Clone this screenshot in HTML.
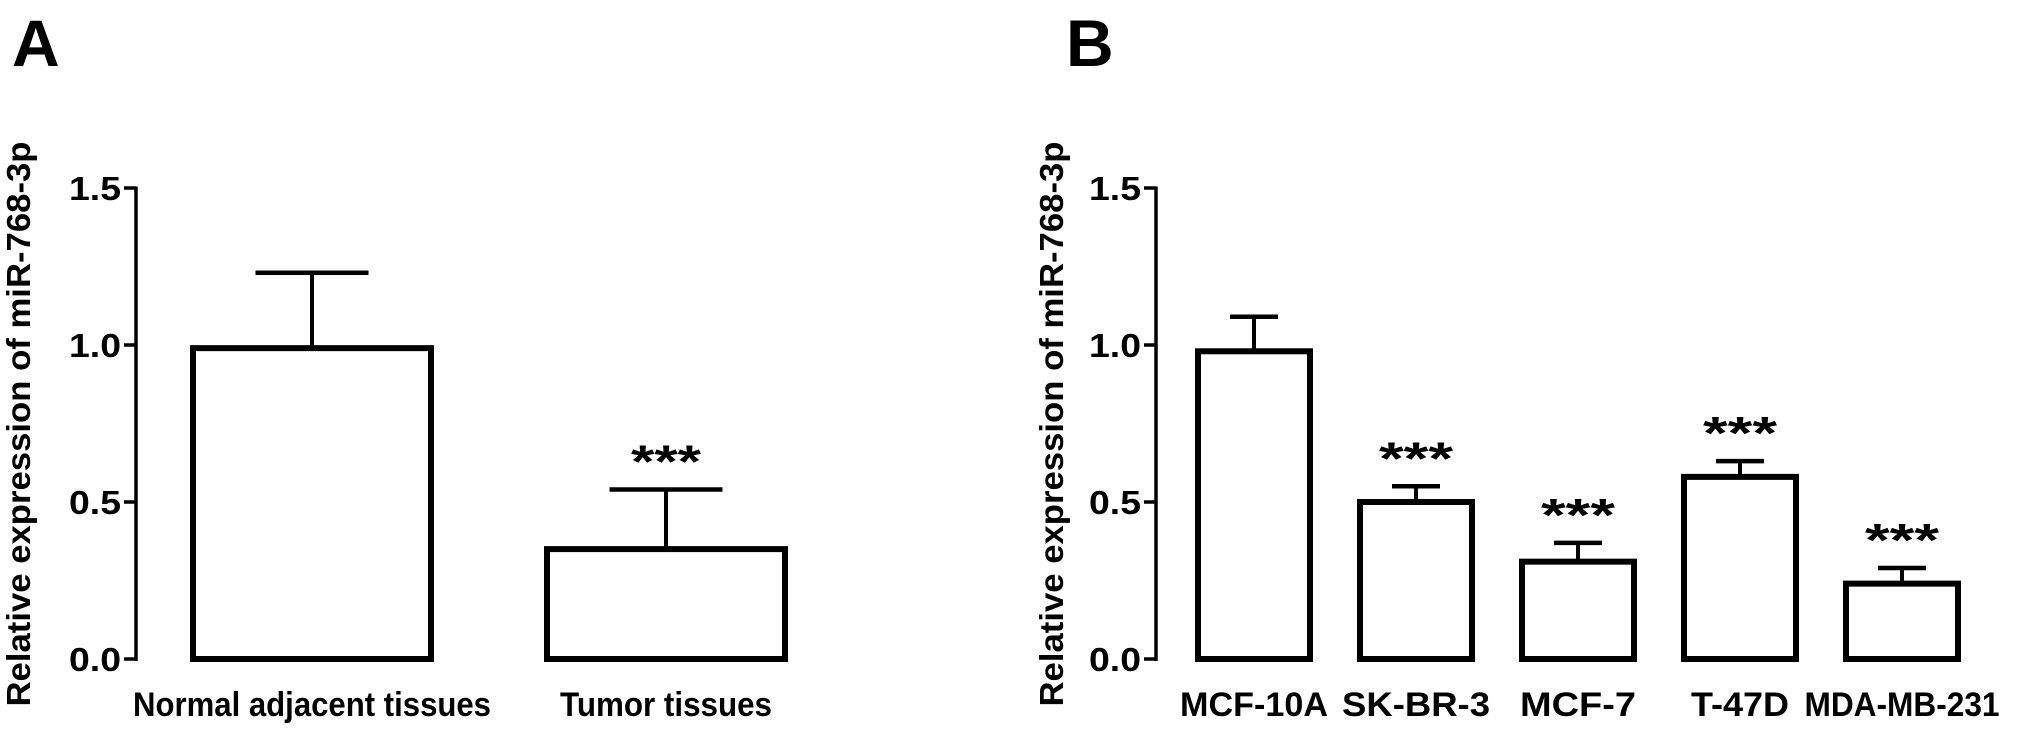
<!DOCTYPE html>
<html><head><meta charset="utf-8"><style>
html,body{margin:0;padding:0;background:#fff;}
svg{display:block;font-family:"Liberation Sans",Arial,sans-serif;font-weight:bold;}
</style></head><body>
<svg id="fig" width="2031" height="729" viewBox="0 0 2031 729"></svg>
<script>
const catsA = ["Normal adjacent tissues", "Tumor tissues"];
const valsA = [0.99, 0.35];
const errA = [0.24, 0.19];
const starsA = ["", "***"];
const catsB = ["MCF-10A", "SK-BR-3", "MCF-7", "T-47D", "MDA-MB-231"];
const valsB = [0.98, 0.50, 0.31, 0.58, 0.24];
const errB = [0.11, 0.05, 0.06, 0.05, 0.05];
const starsB = ["", "***", "***", "***", "***"];
const yTicks = [0, 0.5, 1.0, 1.5];
const yTickLabels = ["0.0", "0.5", "1.0", "1.5"];

const NS = "http://www.w3.org/2000/svg";
const svg = document.getElementById("fig");
function mk(tag, attrs, parent) {
  const e = document.createElementNS(NS, tag);
  for (const k in attrs) e.setAttribute(k, attrs[k]);
  (parent || svg).appendChild(e);
  return e;
}
const Y0 = 659, Y15 = 188;
function yScale(v) { return Y0 - (Y0 - Y15) * v / 1.5; }

function panel(id, letter, letterX, axisX, titleX, cats, vals, errs, stars, barLeft, barW, step, capW, labelLens, starLen) {
  const g = mk("g", {});
  
  
  const L = mk("text", {x: letterX, y: 66, "font-size": 66}, g);
  L.textContent = letter;
  
  
  const ax = mk("line", {x1: axisX, x2: axisX, y1: Y15 - 1.5, y2: Y0 + 2, stroke: "#000", "stroke-width": 3.5}, g);
  
  
  yTicks.forEach((t, i) => {
    const y = yScale(t);
    const tk = mk("line", {x1: axisX - 12, x2: axisX, y1: y, y2: y, stroke: "#000", "stroke-width": 3.5}, g);
    
    
    const tl = mk("text", {x: axisX - 15, y: y + 12, "font-size": 33, "text-anchor": "end", textLength: 52, lengthAdjust: "spacingAndGlyphs"}, g);
    tl.textContent = yTickLabels[i];
    
    
  });
  const tt = mk("text", {x: 0, y: 0, "font-size": 33, "text-anchor": "middle", transform: "translate(" + titleX + ",424) rotate(-90)", textLength: 565, lengthAdjust: "spacingAndGlyphs"}, g);
  tt.textContent = "Relative expression of miR-768-3p";
  
  
  cats.forEach((c, i) => {
    const x = barLeft + i * step;
    const cx = x + barW / 2;
    const top = yScale(vals[i]);
    const eTop = yScale(vals[i] + errs[i]);
    const el = mk("line", {x1: cx, x2: cx, y1: top, y2: eTop, stroke: "#000", "stroke-width": 4}, g);
    
    
    const cap = mk("line", {x1: cx - capW / 2, x2: cx + capW / 2, y1: eTop, y2: eTop, stroke: "#000", "stroke-width": 4.5}, g);
    
    
    const r = mk("rect", {x: x, y: top, width: barW, height: Y0 - top, fill: "#fff", stroke: "#000", "stroke-width": 6}, g);
    
    
    const lb = mk("text", {x: cx, y: 716, "font-size": 34, "text-anchor": "middle", textLength: labelLens[i], lengthAdjust: "spacingAndGlyphs"}, g);
    lb.textContent = c;
    
    
    if (stars[i]) {
      const s = mk("text", {x: cx, y: eTop - 12, "font-size": 46, "text-anchor": "middle", textLength: starLen, lengthAdjust: "spacingAndGlyphs"}, g);
      s.textContent = stars[i];
      
      
    }
  });
}
panel("a", "A", 12, 136, 30, catsA, valsA, errA, starsA, 193, 238, 354, 113, [358, 212], 70);
panel("b", "B", 1066, 1156, 1063, catsB, valsB, errB, starsB, 1198, 112, 162, 48, [148, 148, 116, 98, 195], 74);
</script>
</body></html>
